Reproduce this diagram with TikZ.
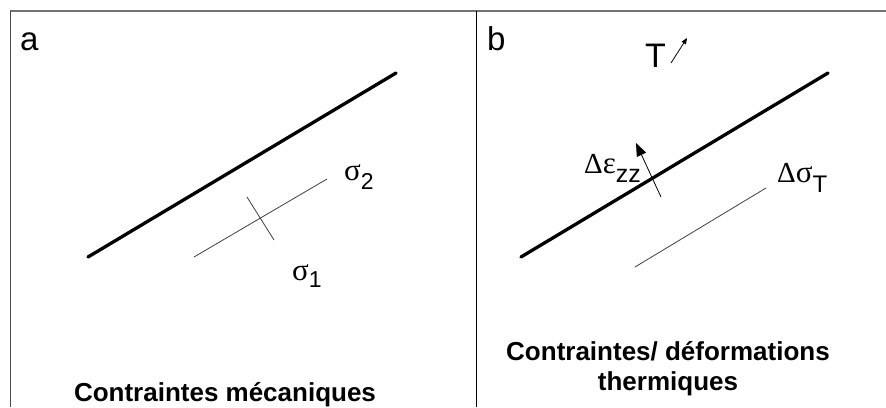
\documentclass[tikz,border=0pt]{standalone}
\usepackage{fontspec}
\setmainfont{Liberation Sans}
\newfontfamily\grk{Liberation Serif}
\usetikzlibrary{arrows.meta}
\begin{document}
\begin{tikzpicture}[x=1pt,y=-1pt,
  frameline/.style={line width=1pt},
  thickline/.style={line width=3.3pt,line cap=round},
  thinline/.style={line width=0.8pt,black!75},
  lbl/.style={inner sep=0pt,anchor=base west},
  panellbl/.style={inner sep=0pt,anchor=base west,font=\fontsize{33}{36}\selectfont},
  title/.style={inner sep=0pt,anchor=base,font=\fontsize{26}{30}\selectfont\bfseries}]
\useasboundingbox (0,0) rectangle (886,407);
\fill[white] (0,0) rectangle (886,407);
% frame
\coordinate (tl) at (10,11);
\coordinate (tr) at (886,11);
\coordinate (bl) at (10,407);
\coordinate (dt) at (476,11);
\coordinate (db) at (476,407);
\draw[line width=1.6pt,black!55] (tl) -- (tr);
\draw[frameline,black!70] (tl) -- (bl);
\draw[frameline] (dt) -- (db);
% panel a
\node[panellbl] (la) at (20,50) {a};
\coordinate (a1) at (88,257);
\coordinate (a2) at (396,73);
\draw[thickline] (a1) -- (a2);
\coordinate (s1) at (194,257);
\coordinate (s2) at (327,179);
\draw[thinline] (s1) -- (s2);
\coordinate (c1) at (247,197);
\coordinate (c2) at (274,240);
\draw[thinline] (c1) -- (c2);
\node[lbl] (sig2) at (344,180) {\fontsize{31}{34}\selectfont\grk σ\raisebox{-9pt}{\fontsize{23}{24}\selectfont\rmfamily 2}};
\node[lbl] (sig1) at (292,280) {\fontsize{31}{34}\selectfont\grk σ\raisebox{-7pt}{\fontsize{23}{24}\selectfont\rmfamily 1}};
\node[title] (ta) at (225,401) {Contraintes mécaniques};
% panel b
\node[panellbl] (lb) at (487,50) {b};
\node[inner sep=0pt,anchor=base west,font=\fontsize{34}{36}\selectfont] (T) at (645,67) {T};
\coordinate (t1) at (671,63);
\coordinate (t2) at (687,38);
\draw[line width=0.8pt,-{Triangle[length=6pt,width=5pt]}] (t1) -- (t2);
\coordinate (b1) at (521,257);
\coordinate (b2) at (828,73);
\draw[thickline] (b1) -- (b2);
\coordinate (e1) at (661,197);
\coordinate (e2) at (636,143);
\draw[line width=0.8pt,-{Triangle[length=13pt,width=10pt]}] (e1) -- (e2);
\node[lbl] (deps) at (584,173) {\fontsize{29}{32}\selectfont\grk Δ\fontsize{31}{32}\selectfont ε\raisebox{-9pt}{\fontsize{25}{28}\selectfont\rmfamily zz}};
\coordinate (d1) at (635,267);
\coordinate (d2) at (766,188);
\draw[thinline] (d1) -- (d2);
\node[lbl] (dsig) at (777,182) {\fontsize{29}{32}\selectfont\grk Δ\fontsize{31}{32}\selectfont σ\raisebox{-10pt}{\fontsize{24}{26}\selectfont\rmfamily T}};
\node[title] (tb1) at (668,360) {Contraintes/ déformations};
\node[title] (tb2) at (668,390) {thermiques};
\end{tikzpicture}
\end{document}
